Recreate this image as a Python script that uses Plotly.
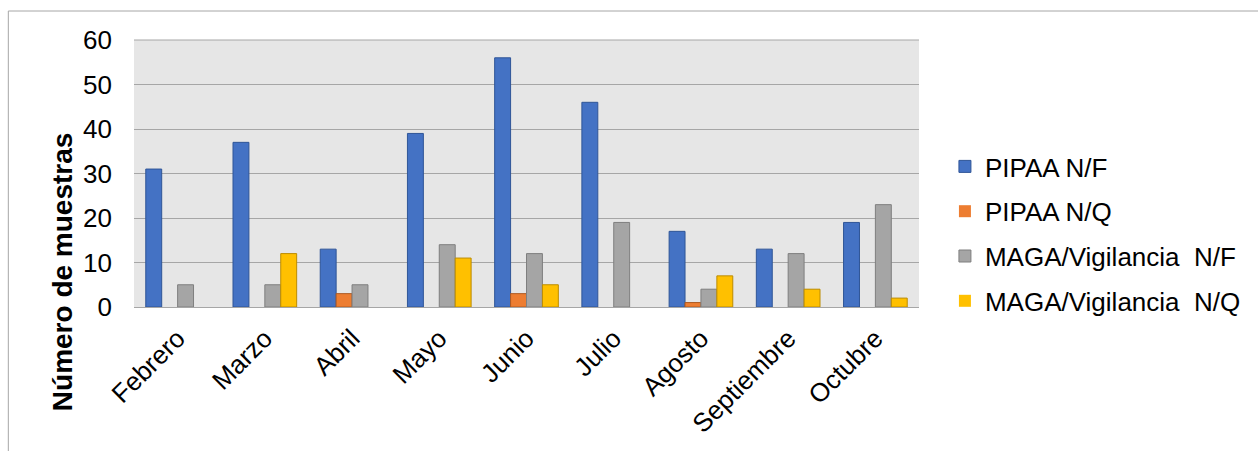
import plotly.graph_objects as go

meses = ["Febrero", "Marzo", "Abril", "Mayo", "Junio", "Julio", "Agosto", "Septiembre", "Octubre"]
pipaa_nf = [31, 37, 13, 39, 56, 46, 17, 13, 19]
pipaa_nq = [0, 0, 3, 0, 3, 0, 1, 0, 0]
maga_nf = [5, 5, 5, 14, 12, 19, 4, 12, 23]
maga_nq = [0, 12, 0, 11, 5, 0, 7, 4, 2]

series = [
    ("PIPAA N/F", pipaa_nf, "#4472c4", "#2f5597"),
    ("PIPAA N/Q", pipaa_nq, "#ed7d31", "#ae5a21"),
    ("MAGA/Vigilancia  N/F", maga_nf, "#a5a5a5", "#7f7f7f"),
    ("MAGA/Vigilancia  N/Q", maga_nq, "#ffc000", "#bc8c00"),
]

FONT = "Liberation Sans, Arial, sans-serif"

fig = go.Figure()
for i, (name, vals, fill, edge) in enumerate(series):
    # no outline on empty bars so zero values leave no mark
    widths = [1 if v > 0 else 0 for v in vals]
    fig.add_trace(go.Bar(
        x=meses, y=vals, name=name, legendgroup=f"g{i}",
        marker=dict(color=fill, line=dict(color=edge, width=widths)),
    ))

W, H = 1258, 451
L, R, T, B = 134, 337, 40, 144
pw, ph = W - L - R, H - T - B

def px_x(x):
    return (x - L) / pw

def px_y(y):
    return (H - B - y) / ph

fig.update_layout(
    width=W, height=H,
    margin=dict(l=L, r=R, t=T, b=B),
    paper_bgcolor="white",
    plot_bgcolor="#e6e6e6",
    barmode="group",
    bargap=0.27,
    bargroupgap=0,
    font=dict(family=FONT, color="black"),
    xaxis=dict(
        tickangle=-45, tickfont=dict(size=26), showgrid=False,
        ticks="", showline=False, ticklabelstandoff=10,
    ),
    yaxis=dict(
        range=[0, 60], dtick=10, tickfont=dict(size=26),
        gridcolor="#a6a6a6", gridwidth=1, zeroline=True,
        zerolinecolor="#a6a6a6", zerolinewidth=1, ticks="",
        ticklabelstandoff=21,
    ),
    legend=dict(
        x=px_x(947), xanchor="left", y=px_y(234), yanchor="middle",
        font=dict(size=26), tracegroupgap=8, bgcolor="rgba(0,0,0,0)",
    ),
    showlegend=True,
)

# outer chart frame
fig.add_shape(type="line", xref="paper", yref="paper",
              x0=px_x(8), x1=px_x(1300), y0=px_y(11), y1=px_y(11),
              line=dict(color="#a6a6a6", width=1))
fig.add_shape(type="line", xref="paper", yref="paper",
              x0=px_x(8), x1=px_x(8), y0=px_y(11), y1=px_y(500),
              line=dict(color="#a6a6a6", width=1))
# top border of the plotting area
fig.add_shape(type="line", xref="paper", yref="paper",
              x0=0, x1=1, y0=1, y1=1, line=dict(color="#a6a6a6", width=1))

fig.add_annotation(
    text="<b>Número de muestras</b>", textangle=-90,
    xref="paper", yref="paper", x=px_x(62), y=px_y(272),
    xanchor="center", yanchor="middle",
    showarrow=False, font=dict(size=28, family=FONT),
)

fig.write_html("out.html")
